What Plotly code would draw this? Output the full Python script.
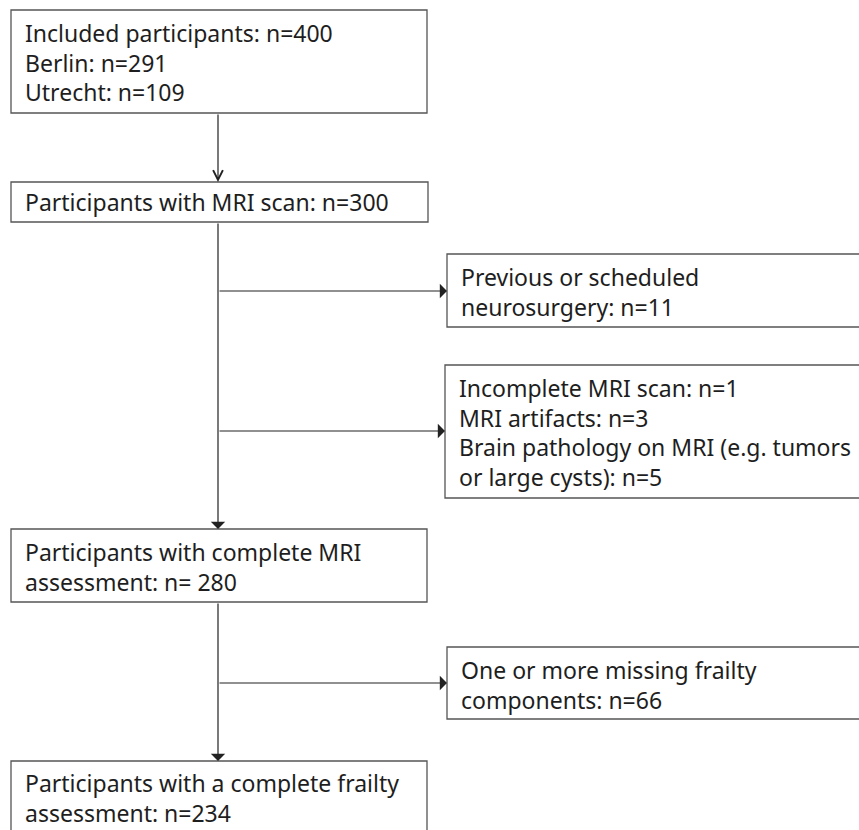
import plotly.graph_objects as go

# ---- content ----
box_texts = [
    ["Included participants: n=400", "Berlin: n=291", "Utrecht: n=109"],
    ["Participants with MRI scan: n=300"],
    ["Previous or scheduled", "neurosurgery: n=11"],
    ["Incomplete MRI scan: n=1", "MRI artifacts: n=3",
     "Brain pathology on MRI (e.g. tumors", "or large cysts): n=5"],
    ["Participants with complete MRI", "assessment: n= 280"],
    ["One or more missing frailty", "components: n=66"],
    ["Participants with a complete frailty", "assessment: n=234"],
]

# ---- layout geometry (pixels) ----
W, H = 859, 830
boxes = [  # x0, y0, x1, y1
    (11, 10, 427, 113),
    (11, 182, 428, 222),
    (447, 254, 880, 327),
    (445, 365, 880, 498),
    (11, 529, 427, 602),
    (447, 647, 880, 719),
    (11, 761, 427, 860),
]
text_x = [23, 23, 459, 457, 23, 459, 23]
first_line_y = [33, 202, 277, 388, 552, 670, 783]
line_step = 29.5
spine_x = 218

line_col = "#555555"
text_col = "#1e1e1e"
font_family = "Noto Sans, Open Sans, sans-serif"
font_size = 23

fig = go.Figure()
shapes = []
for (x0, y0, x1, y1) in boxes:
    shapes.append(dict(type="rect", x0=x0, y0=y0, x1=x1, y1=y1,
                       line=dict(color=line_col, width=1.3), fillcolor="white",
                       xref="x", yref="y", layer="below"))

annotations = []
for lines, tx, ty in zip(box_texts, text_x, first_line_y):
    for i, ln in enumerate(lines):
        annotations.append(dict(x=tx, y=ty + i * line_step, text=ln, showarrow=False,
                                xanchor="left", yanchor="middle", xref="x", yref="y",
                                font=dict(family=font_family, size=font_size, color=text_col)))

def arrow(x0, y0, x1, y1, head=1, size=2.0):
    annotations.append(dict(x=x1, y=y1, ax=x0, ay=y0, xref="x", yref="y",
                            axref="x", ayref="y", showarrow=True, text="",
                            arrowhead=head, arrowsize=size, arrowwidth=1.2,
                            arrowcolor="#222222", standoff=0))

# vertical flow
arrow(spine_x, 113, spine_x, 182, head=5, size=1.6)
arrow(spine_x, 222, spine_x, 529)
arrow(spine_x, 602, spine_x, 761)
# side exclusions
arrow(spine_x, 291, 447, 291)
arrow(spine_x, 431, 445, 431)
arrow(spine_x, 683, 447, 683)

fig.update_layout(
    width=W, height=H, margin=dict(l=0, r=0, t=0, b=0),
    paper_bgcolor="white", plot_bgcolor="white",
    xaxis=dict(range=[0, W], visible=False, fixedrange=True),
    yaxis=dict(range=[H, 0], visible=False, fixedrange=True),
    shapes=shapes, annotations=annotations, showlegend=False,
)
fig.write_html("out.html", config={"displayModeBar": False},
               post_script="document.body.style.margin='0';document.body.style.overflow='hidden';")
